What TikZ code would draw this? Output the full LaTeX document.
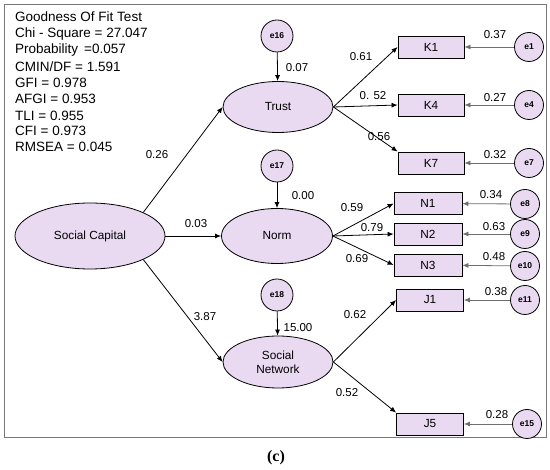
\documentclass[tikz,border=0pt]{standalone}
\usepackage{fontspec}
\setmainfont{Liberation Sans}
\newfontfamily\capfont{Liberation Serif}
\usetikzlibrary{shapes.geometric,arrows.meta}
\definecolor{lav}{RGB}{233,218,242}
\definecolor{framegray}{RGB}{120,120,120}
\definecolor{errgray}{RGB}{110,110,110}
\tikzset{
  lat/.style={ellipse,draw,line width=0.8pt,fill=lav,inner sep=0pt,font=\fontsize{11.8}{14}\selectfont,align=center},
  obs/.style={rectangle,draw,line width=0.8pt,fill=lav,minimum width=66pt,minimum height=22pt,inner sep=0pt,font=\fontsize{11.8}{13}\selectfont},
  err/.style={circle,draw,line width=0.8pt,fill=lav,minimum size=29pt,inner sep=0pt,font=\bfseries\fontsize{8.5}{10}\selectfont},
  errbig/.style={err,minimum size=32pt},
  path/.style={line width=0.8pt,-{Latex[length=6pt,width=5pt]}},
  epath/.style={line width=0.8pt,draw=errgray,-{Latex[length=6pt,width=5pt]}},
  lbl/.style={font=\fontsize{11.5}{13}\selectfont,inner sep=0pt},
  fit/.style={font=\fontsize{13.5}{16}\selectfont,inner sep=0pt,anchor=west}
}
\begin{document}
\begin{tikzpicture}[x=1pt,y=-1pt]
\useasboundingbox (0,0) rectangle (550,470);
\draw[framegray,line width=0.8pt] (4.5,4) rectangle (546,437);
% fit statistics
\node[fit] (f1) at (15,17) {Goodness Of Fit Test};
\node[fit] (f2) at (15,34) {Chi - Square = 27.047};
\node[fit] (f3) at (15,50) {Probability \,=0.057};
\node[fit] (f4) at (15,67) {CMIN/DF = 1.591};
\node[fit] (f5) at (15,83) {GFI = 0.978};
\node[fit] (f6) at (15,99) {AFGI = 0.953};
\node[fit] (f7) at (15,116) {TLI = 0.955};
\node[fit] (f8) at (15,131) {CFI = 0.973};
\node[fit] (f9) at (15,147) {RMSEA = 0.045};
% latent variables
\node[lat,minimum width=150pt,minimum height=66pt] (sc) at (90,236) {Social Capital};
\node[lat,minimum width=110pt,minimum height=51pt] (tr) at (278,107) {Trust};
\node[lat,minimum width=111pt,minimum height=55pt] (no) at (277,236) {Norm};
\node[lat,minimum width=110pt,minimum height=52pt] (sn) at (278,362) {Social\\Network};
% disturbances
\node[errbig] (e16) at (277,36) {e16};
\node[errbig] (e17) at (277,166) {e17};
\node[errbig] (e18) at (277,295) {e18};
% indicators
\node[obs] (k1) at (431,47) {K1};
\node[obs] (k4) at (431,105) {K4};
\node[obs] (k7) at (431,163) {K7};
\node[obs,minimum width=68pt] (n1) at (428,203.5) {N1};
\node[obs,minimum width=68pt] (n2) at (428,234) {N2};
\node[obs,minimum width=68pt] (n3) at (428,265) {N3};
\node[obs,minimum width=67pt] (j1) at (430,300) {J1};
\node[obs,minimum width=67pt] (j5) at (430,424) {J5};
% errors
\node[err] (e1) at (529,47) {e1};
\node[err] (e4) at (529,105) {e4};
\node[err] (e7) at (529,163) {e7};
\node[err] (e8) at (525,204) {e8};
\node[err] (e9) at (525,234) {e9};
\node[err] (e10) at (525,266) {e10};
\node[err] (e11) at (525,300) {e11};
\node[err] (e15) at (527,424) {e15};
% structural paths
\draw[path] (sc.north east) -- (tr.west);
\draw[path] (sc.east) -- (no.west);
\draw[path] (sc.south east) -- (sn.west);
\node[lbl] (l1) at (157,155) {0.26};
\node[lbl] (l2) at (196,224) {0.03};
\node[lbl] (l3) at (205,317) {3.87};
% disturbance paths
\draw[path] (e16) -- (tr);
\draw[path] (e17) -- (no);
\draw[path] (e18) -- (sn);
\node[lbl] (l4) at (297,68) {0.07};
\node[lbl] (l5) at (303,196) {0.00};
\node[lbl] (l6) at (298,328) {15.00};
% loadings
\draw[path] (tr.east) -- (k1.west);
\draw[path] (tr.east) -- (k4.west);
\draw[path] (tr.east) -- (k7.north west);
\node[lbl] (l7) at (361,57) {0.61};
\node[lbl] (l8) at (373,96) {0. 52};
\node[lbl] (l9) at (379,137) {0.56};
\draw[path] (no.east) -- (n1.west);
\draw[path] (no.east) -- (n2.west);
\draw[path] (no.east) -- (n3.west);
\node[lbl] (l10) at (352,208) {0.59};
\node[lbl] (l11) at (372,228) {0.79};
\node[lbl] (l12) at (357,259) {0.69};
\draw[path] (sn.east) -- (j1.west);
\draw[path] (sn.east) -- (j5.north west);
\node[lbl] (l13) at (355,315) {0.62};
\node[lbl] (l14) at (347,393) {0.52};
% error paths
\draw[epath] (e1) -- (k1);
\draw[epath] (e4) -- (k4);
\draw[epath] (e7) -- (k7);
\draw[epath] (e8) -- (n1);
\draw[epath] (e9) -- (n2);
\draw[epath] (e10) -- (n3);
\draw[epath] (e11) -- (j1);
\draw[epath] (e15) -- (j5);
\node[lbl] (m1) at (495,35) {0.37};
\node[lbl] (m2) at (495,98) {0.27};
\node[lbl] (m3) at (495,155) {0.32};
\node[lbl] (m4) at (491,195) {0.34};
\node[lbl] (m5) at (494,227) {0.63};
\node[lbl] (m6) at (494,257) {0.48};
\node[lbl] (m7) at (496,292) {0.38};
\node[lbl] (m8) at (497,415) {0.28};
% caption
\node[font=\capfont\bfseries\fontsize{16}{18}\selectfont] (cap) at (276,458) {(c)};
\end{tikzpicture}
\end{document}
